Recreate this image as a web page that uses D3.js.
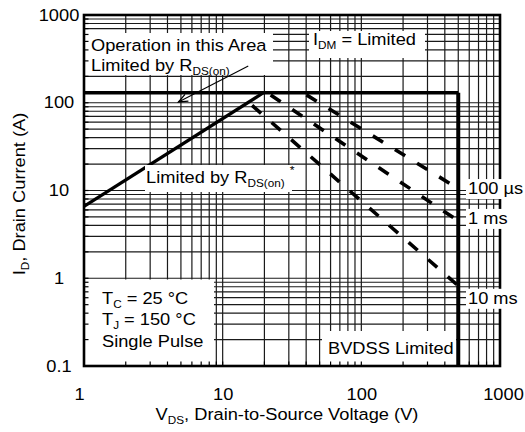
<!DOCTYPE html>
<html><head><meta charset="utf-8">
<script src="https://cdn.jsdelivr.net/npm/d3@7"></script>
<style>
body{margin:0;background:#fff}
svg{display:block}
text{font-family:"Liberation Sans",Arial,Helvetica,sans-serif;fill:#000}
</style>
</head><body>
<svg id="c" width="525" height="432"></svg>
<script>
// ---- data ----
const xTickLabels = [1, 10, 100, 1000];
const yTickLabels = [0.1, 1, 10, 100, 1000];
const idmLimit    = [[1, 130], [500, 130]];      // horizontal current limit
const bvdssLimit  = [[500, 130], [500, 0.1]];    // breakdown-voltage limit
const rdsonLimit  = [[1, 6.6], [19.7, 130]];     // R_DS(on) limit
const pulseNames  = ["100 µs", "1 ms", "10 ms"];
const pulse100us  = [[38, 130], [500, 10.5]];
const pulse1ms    = [[21, 130], [500, 4.5]];
const pulse10ms   = [[15.5, 100], [500, 0.82]];
const arrowPts    = [[15.3, 262], [4.8, 102]];

// ---- layout ----
const L = 84, R = 500, T = 15, B = 366;
const FS = 16.3, SUB = 10.5, SX = 1.12;
const svg = d3.select("#c");
const x = d3.scaleLog().domain([1, 1000]).range([L, R]);
const y = d3.scaleLog().domain([0.1, 1000]).range([B, T]);
const line = d3.line().x(d => x(d[0])).y(d => y(d[1]));

svg.append("rect").attr("width", 525).attr("height", 432).attr("fill", "#fff");

// grid
const grid = svg.append("g").attr("stroke", "#1a1a1a").attr("stroke-width", 1.2);
grid.selectAll(".vx").data(x.ticks()).join("line")
  .attr("x1", d => x(d)).attr("x2", d => x(d)).attr("y1", T).attr("y2", B);
grid.selectAll(".hy").data(y.ticks()).join("line")
  .attr("y1", d => y(d)).attr("y2", d => y(d)).attr("x1", L).attr("x2", R);

// limit lines
svg.append("path").attr("d", line(idmLimit)).attr("fill", "none").attr("stroke", "#000").attr("stroke-width", 3.3);
svg.append("path").attr("d", line(bvdssLimit)).attr("fill", "none").attr("stroke", "#000").attr("stroke-width", 4);
svg.append("path").attr("d", line(rdsonLimit)).attr("fill", "none").attr("stroke", "#000").attr("stroke-width", 3.2);
[pulse100us, pulse1ms, pulse10ms].forEach(p => {
  svg.append("path").attr("d", line(p)).attr("fill", "none").attr("stroke", "#000")
    .attr("stroke-width", 3.6).attr("stroke-dasharray", "12,14").attr("stroke-dashoffset", -4);
});

// white label boxes inside plot
const boxes = [
  [85, 33, 188, 42],   // Operation in this area
  [309, 31, 116, 27],  // IDM
  [145, 165, 147, 27], // Limited by RDS(on)
  [85, 279.5, 129, 85.5], // Tc box
  [322, 331, 134, 34]  // BVDSS
];
svg.append("g").selectAll("rect").data(boxes).join("rect")
  .attr("x", d => d[0]).attr("y", d => d[1]).attr("width", d => d[2]).attr("height", d => d[3])
  .attr("fill", "#fff");

// frame
svg.append("rect").attr("x", L).attr("y", T).attr("width", R - L).attr("height", B - T)
  .attr("fill", "none").attr("stroke", "#000").attr("stroke-width", 2.6);

// inner minor ticks
const tk = svg.append("g").attr("stroke", "#000").attr("stroke-width", 1.2);
tk.selectAll(".bt").data(x.ticks()).join("line")
  .attr("x1", d => x(d)).attr("x2", d => x(d)).attr("y1", B).attr("y2", B - 4.5);
tk.selectAll(".lt").data(y.ticks()).join("line")
  .attr("y1", d => y(d)).attr("y2", d => y(d)).attr("x1", L).attr("x2", L + 4.5);

// right-side pulse labels (white boxes over frame)
const pulseEnds = [pulse100us, pulse1ms, pulse10ms].map(p => p[1][1]);
const pulseDy = [5.4, 3, 18];
pulseNames.forEach((n, i) => {
  const yy = y(pulseEnds[i]) + pulseDy[i];
  svg.append("rect").attr("x", 466).attr("y", yy - 15).attr("width", 59).attr("height", 20).attr("fill", "#fff");
});

// text helper
function label(px, py, parts, anchor, rot) {
  const g = svg.append("g").attr("transform",
    `translate(${px},${py})` + (rot ? ` rotate(${rot})` : "") + ` scale(${SX},1)`);
  const t = g.append("text").attr("text-anchor", anchor || "start").style("font-size", FS + "px");
  let cur = 0;
  parts.forEach(p => {
    let s = 0, txt = p, fs = FS;
    if (typeof p === "object") {
      txt = p.t;
      if (p.sub) { s = 4; fs = SUB; }
      if (p.sup) { s = -9; fs = 11; }
    }
    t.append("tspan").attr("dy", s - cur).style("font-size", fs + "px").text(txt);
    cur = s;
  });
  return t;
}

pulseNames.forEach((n, i) => {
  label(468, y(pulseEnds[i]) + pulseDy[i], [n]);
});

label(91, 51, ["Operation in this Area"]);
label(91, 70.5, ["Limited by R", {t: "DS(on)", sub: true}]);
label(313, 45, ["I", {t: "DM", sub: true}, " = Limited"]);
label(146, 183, ["Limited by R", {t: "DS(on)", sub: true}, " ", {t: "*", sup: true}]);
label(102, 304, ["T", {t: "C", sub: true}, " = 25 °C"]);
label(102, 325, ["T", {t: "J", sub: true}, " = 150 °C"]);
label(102, 347, ["Single Pulse"]);
label(328, 354, ["BVDSS Limited"]);

// arrow
const a0 = [x(arrowPts[0][0]), y(arrowPts[0][1])], a1 = [x(arrowPts[1][0]), y(arrowPts[1][1])];
svg.append("line").attr("x1", a0[0]).attr("y1", a0[1]).attr("x2", a1[0]).attr("y2", a1[1])
  .attr("stroke", "#000").attr("stroke-width", 1.1);
const ang = Math.atan2(a0[1] - a1[1], a0[0] - a1[0]);
const hl = 10, hw = 0.38;
svg.append("path").attr("d",
  `M${a1[0] + hl * Math.cos(ang + hw)},${a1[1] + hl * Math.sin(ang + hw)}L${a1[0]},${a1[1]}L${a1[0] + hl * Math.cos(ang - hw)},${a1[1] + hl * Math.sin(ang - hw)}`)
  .attr("fill", "none").attr("stroke", "#000").attr("stroke-width", 1.3);

// axes (labels only)
const fmt = d3.format("~g");
const xa = svg.append("g").attr("transform", `translate(0,${B})`)
  .call(d3.axisBottom(x).tickValues(xTickLabels).tickSize(0).tickFormat(fmt));
xa.select(".domain").remove();
const xNudge = {1: -5, 1000: 3};
xa.selectAll(".tick text").attr("y", 34).attr("dy", 0)
  .attr("transform", d => `translate(${xNudge[d] || 0},0) scale(${SX},1)`)
  .style("font-size", FS + "px").attr("fill", "#000");
xa.attr("font-family", null).attr("font-size", null);

const ya = svg.append("g").attr("transform", `translate(${L},0)`)
  .call(d3.axisLeft(y).tickValues(yTickLabels).tickSize(0).tickFormat(fmt));
ya.select(".domain").remove();
ya.selectAll(".tick text").attr("x", -25 / SX).attr("text-anchor", "middle").attr("dy", "0.32em")
  .attr("transform", `scale(${SX},1)`)
  .style("font-size", FS + "px").attr("fill", "#000");
ya.attr("font-family", null).attr("font-size", null);

// axis titles
label(287, 420, ["V", {t: "DS", sub: true}, ", Drain-to-Source Voltage (V)"], "middle");
label(25, 194, ["I", {t: "D", sub: true}, ", Drain Current (A)"], "middle", -90);
</script>
</body></html>
